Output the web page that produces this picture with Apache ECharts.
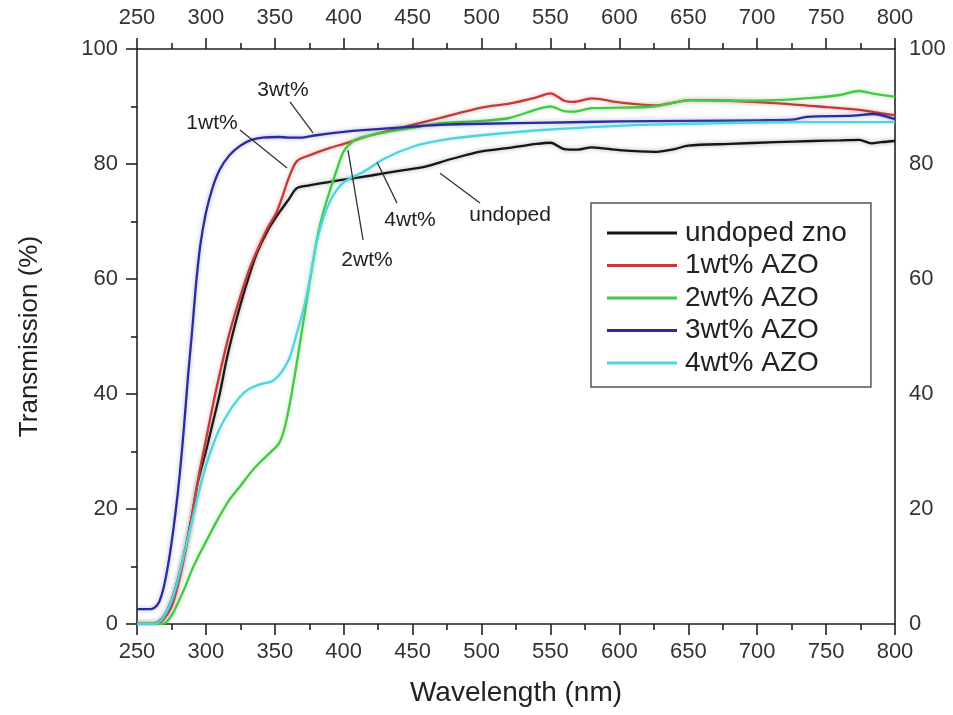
<!DOCTYPE html>
<html>
<head>
<meta charset="utf-8">
<script src="https://cdn.jsdelivr.net/npm/echarts@6/dist/echarts.min.js"></script>
<style>
html,body{margin:0;padding:0;background:#fff;}
#chart{width:953px;height:715px;}
</style>
</head>
<body>
<div id="chart"></div>
<script>
// ---- data (wavelength nm, transmission %) ----
const seriesNames = ['undoped zno', '1wt% AZO', '2wt% AZO', '3wt% AZO', '4wt% AZO'];

const undopedX = [250,262,266,270,275,280,285,290,294,300,305,310,315,320,325,330,337,345,353,360,366,375,390,400,420,440,460,470,480,500,520,540,550,560,570,580,600,625,640,650,680,713,740,760,774,783,790,800];
const undopedY = [0,0,0.4,1.5,4,8,13,19,24.5,30,35,40,46,51,55.5,59.5,64.5,68.5,71.5,73.8,75.8,76.3,76.9,77.3,78,78.8,79.6,80.3,81,82.2,82.8,83.5,83.7,82.6,82.5,82.9,82.4,82.1,82.6,83.2,83.5,83.8,84,84.1,84.2,83.6,83.8,84];

const wt1X = [250,262,268,275,280,285,290,295,300,305,310,317,325,332,340,345,351,355,360,366,375,390,400,420,450,470,500,520,540,550,560,567,580,600,625,652,680,713,750,774,790,800];
const wt1Y = [0,0,0.5,3,7,12.5,19,26,32,38,43.5,50.5,57,62,66.5,69,71.5,74,77.5,80.5,81.5,82.8,83.5,85,86.8,88,89.8,90.5,91.6,92.3,91,90.8,91.4,90.7,90.2,91.1,91,90.6,89.9,89.4,88.8,88.5];

const wt2X = [250,268,272,276,280,285,290,295,300,305,310,317,325,333,340,347,353,357,361,365,369,373,377,381,385,390,395,400,407,414,430,450,470,500,520,540,550,560,567,580,600,625,652,680,713,740,760,774,785,800];
const wt2Y = [0,0,0.5,1.8,3.8,6.5,9.5,12,14.3,16.6,18.8,21.6,24,26.5,28.3,29.9,31.4,34,38.5,44,50,56,62,67.5,71.5,75.4,79,82.2,84,84.7,85.5,86.3,87.1,87.5,88,89.5,90,89.2,89.1,89.7,89.8,90,91.1,91,91.1,91.5,92,92.7,92.2,91.7];

const wt3X = [250,260,263,266,269,272,275,278,281,284,287,290,293,296,300,305,310,317,325,333,341,353,360,370,380,400,414,450,470,500,550,600,650,700,725,736,770,784,800];
const wt3Y = [2.6,2.6,2.9,3.8,6,9.5,14,19.5,26,34,43,51,59.5,66,71.5,76,79,81.5,83.2,84.2,84.6,84.7,84.6,84.6,85,85.6,85.9,86.5,86.8,87,87.2,87.4,87.5,87.6,87.7,88.2,88.4,88.7,87.8];

const wt4X = [250,262,268,275,280,285,290,295,300,305,310,317,323,329,335,341,348,352,356,361,366,370,373,377,380,385,390,395,400,407,414,430,450,470,500,550,616,650,700,750,800];
const wt4Y = [0,0,0.8,4,8,13,18,23,27.5,31,34,37,39,40.5,41.3,41.8,42.2,43,44.2,46.5,50.6,54,57,62,66,70.5,73.5,75.5,76.8,77.8,78.6,81,83,84.1,85,86,86.8,87,87.2,87.3,87.3];

const xTicks = [250, 800, 50];   // min, max, step
const yTicks = [0, 100, 20];

// annotations (text and leader lines, in data coordinates)
const annotLabels = ['3wt%', '1wt%', '4wt%', '2wt%', 'undoped'];
const annotTextAt = [[355.9,92.9],[304.4,87.1],[448.1,70.3],[416.9,63.3],[520.7,71.1]];
const annotFrom = [[361,90.8],[324.7,85.9],[424.2,80.3],[403.1,82.4],[469.9,78.4]];
const annotTo = [[377.7,85.4],[358.9,79.3],[438.7,73.2],[414,66.8],[498.9,73.2]];

// ---- chart ----
const colors = ['#151515', '#c23a3a', '#45c845', '#2b2b9c', '#52d3dd'];
const xs = [undopedX, wt1X, wt2X, wt3X, wt4X];
const ys = [undopedY, wt1Y, wt2Y, wt3Y, wt4Y];

function pairs(x, y) { return x.map((v, i) => [v, y[i]]); }

const FONT = '"Liberation Sans", Arial, sans-serif';
const axisLineStyle = { color: '#222', width: 1.6 };

const chart = echarts.init(document.getElementById('chart'), null, { renderer: 'canvas' });

const option = {
  backgroundColor: '#fff',
  animation: false,
  textStyle: { fontFamily: FONT },
  grid: { left: 137, right: 58, top: 49, bottom: 91, containLabel: false },
  legend: {
    data: seriesNames,
    orient: 'vertical',
    left: 591, top: 203,
    padding: [16, 24, 10, 16],
    itemGap: 4.5,
    itemWidth: 70, itemHeight: 3,
    icon: 'rect',
    borderColor: '#555', borderWidth: 1.5,
    backgroundColor: '#fff',
    textStyle: { fontSize: 28, color: '#222', fontFamily: FONT, padding: [0, 0, 0, 3] }
  },
  xAxis: [
    {
      type: 'value', position: 'bottom',
      min: xTicks[0], max: xTicks[1], interval: xTicks[2],
      name: 'Wavelength (nm)', nameLocation: 'middle', nameGap: 55,
      nameTextStyle: { fontSize: 28, color: '#222', fontFamily: FONT },
      axisLine: { show: true, onZero: false, lineStyle: axisLineStyle },
      axisTick: { show: true, inside: false, length: 11, lineStyle: axisLineStyle },
      minorTick: { show: true, splitNumber: 2, length: 6, lineStyle: axisLineStyle },
      axisLabel: { fontSize: 22, color: '#333', margin: 17, fontFamily: FONT },
      splitLine: { show: false }
    },
    {
      type: 'value', position: 'top',
      min: xTicks[0], max: xTicks[1], interval: xTicks[2],
      axisLine: { show: true, onZero: false, lineStyle: axisLineStyle },
      axisTick: { show: true, inside: false, length: 11, lineStyle: axisLineStyle },
      minorTick: { show: true, splitNumber: 2, length: 6, lineStyle: axisLineStyle },
      axisLabel: { fontSize: 22, color: '#333', margin: 20, fontFamily: FONT },
      splitLine: { show: false }
    }
  ],
  yAxis: [
    {
      type: 'value', position: 'left',
      min: yTicks[0], max: yTicks[1], interval: yTicks[2],
      name: 'Transmission (%)', nameLocation: 'middle', nameGap: 94,
      nameTextStyle: { fontSize: 26, color: '#222', fontFamily: FONT },
      axisLine: { show: true, onZero: false, lineStyle: axisLineStyle },
      axisTick: { show: true, inside: false, length: 11, lineStyle: axisLineStyle },
      minorTick: { show: true, splitNumber: 2, length: 6, lineStyle: axisLineStyle },
      axisLabel: { fontSize: 22, color: '#333', margin: 19, fontFamily: FONT },
      splitLine: { show: false }
    },
    {
      type: 'value', position: 'right',
      min: yTicks[0], max: yTicks[1], interval: yTicks[2],
      axisLine: { show: true, onZero: false, lineStyle: axisLineStyle },
      axisTick: { show: false },
      axisLabel: { fontSize: 22, color: '#333', margin: 14, fontFamily: FONT },
      splitLine: { show: false }
    }
  ],
  series: seriesNames.map((n, i) => ({
    name: n, type: 'line',
    xAxisIndex: 0, yAxisIndex: 0,
    data: pairs(xs[i], ys[i]),
    symbol: 'none', showSymbol: false,
    smooth: 0.3,
    color: colors[i],
    lineStyle: { color: colors[i], width: 2.3, shadowColor: colors[i] + '66', shadowBlur: 4 },
    z: 2 + i
  }))
};

chart.setOption(option);

// annotations placed through the chart's own coordinate system
const g = [];
for (let i = 0; i < annotLabels.length; i++) {
  const t = chart.convertToPixel({ gridIndex: 0 }, annotTextAt[i]);
  const a = chart.convertToPixel({ gridIndex: 0 }, annotFrom[i]);
  const b = chart.convertToPixel({ gridIndex: 0 }, annotTo[i]);
  g.push({
    type: 'line', z: 50,
    shape: { x1: a[0], y1: a[1], x2: b[0], y2: b[1] },
    style: { stroke: '#333', lineWidth: 1.3 }
  });
  g.push({
    type: 'text', z: 50,
    x: t[0], y: t[1],
    style: { text: annotLabels[i], fill: '#222', font: '21px ' + FONT, textAlign: 'center', textVerticalAlign: 'middle' }
  });
}
chart.setOption({ graphic: g });
</script>
</body>
</html>
